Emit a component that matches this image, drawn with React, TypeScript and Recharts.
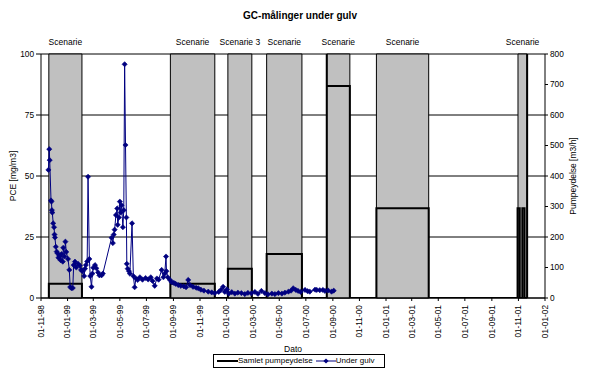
import React from 'react';
import { ComposedChart, Line, XAxis, YAxis, CartesianGrid, ReferenceArea, Legend } from 'recharts';

const FONT = '"Liberation Sans", Arial, Helvetica, sans-serif';

// ---- data ----
const underGulvDates = [
  '1998-11-18', '1998-11-20', '1998-11-21', '1998-11-24', '1998-11-25', '1998-11-26', '1998-11-27', '1998-11-29',
  '1998-12-01', '1998-12-02', '1998-12-03', '1998-12-05', '1998-12-07', '1998-12-09', '1998-12-11', '1998-12-13',
  '1998-12-16', '1998-12-18', '1998-12-21', '1998-12-22', '1998-12-25', '1998-12-27', '1998-12-29', '1999-01-02',
  '1999-01-05', '1999-01-07', '1999-01-10', '1999-01-13', '1999-01-15', '1999-01-18', '1999-01-21', '1999-01-25',
  '1999-01-29', '1999-02-01', '1999-02-04', '1999-02-08', '1999-02-10', '1999-02-12', '1999-02-15', '1999-02-17',
  '1999-02-20', '1999-02-22', '1999-02-25', '1999-02-27', '1999-03-01', '1999-03-05', '1999-03-08', '1999-03-12',
  '1999-03-15', '1999-03-20', '1999-03-23', '1999-04-12', '1999-04-15', '1999-04-17', '1999-04-19', '1999-04-22',
  '1999-04-25', '1999-04-26', '1999-04-29', '1999-05-01', '1999-05-03', '1999-05-05', '1999-05-08', '1999-05-10',
  '1999-05-12', '1999-05-14', '1999-05-16', '1999-05-17', '1999-05-19', '1999-05-22', '1999-05-24', '1999-05-29',
  '1999-06-01', '1999-06-04', '1999-06-07', '1999-06-11', '1999-06-16', '1999-06-22', '1999-06-29', '1999-07-05',
  '1999-07-11', '1999-07-15', '1999-07-20', '1999-07-25', '1999-07-29', '1999-08-05', '1999-08-09', '1999-08-12',
  '1999-08-15', '1999-08-16', '1999-08-19', '1999-08-24', '1999-08-28', '1999-09-02', '1999-09-06', '1999-09-12',
  '1999-09-18', '1999-09-25', '1999-09-30', '1999-10-05', '1999-10-09', '1999-10-16', '1999-10-23', '1999-10-28',
  '1999-11-03', '1999-11-10', '1999-11-20', '1999-11-28', '1999-12-05', '1999-12-14', '1999-12-19', '1999-12-24',
  '1999-12-28', '2000-01-02', '2000-01-06', '2000-01-13', '2000-01-20', '2000-01-27', '2000-02-04', '2000-02-12',
  '2000-02-19', '2000-02-27', '2000-03-06', '2000-03-13', '2000-03-21', '2000-03-29', '2000-04-05', '2000-04-14',
  '2000-04-21', '2000-04-29', '2000-05-07', '2000-05-14', '2000-05-22', '2000-05-28', '2000-06-02', '2000-06-08',
  '2000-06-13', '2000-06-19', '2000-06-29', '2000-07-05', '2000-07-10', '2000-07-22', '2000-07-26', '2000-08-02',
  '2000-08-09', '2000-08-14', '2000-08-21', '2000-08-29', '2000-09-03',
];
const underGulvValues = [
  52.5, 61, 56.5, 40, 39.5, 36, 35, 30.6,
  29, 26, 24.8, 21, 19, 18.3, 16.5, 17.3,
  15.5, 18, 14.9, 20.6, 17, 23.1, 18.9, 16,
  11.5, 4.5, 4, 4.1, 13.5, 14.9, 12.5, 14,
  13.3, 11.5, 11, 9, 12, 13.5, 15, 49.7,
  16, 9, 4.6, 10, 12.4, 13.5, 12.2, 10.5,
  9.3, 9.3, 10, 24.7, 22.5, 26, 28, 34,
  36.7, 30, 33, 39.5, 35, 38, 29, 36,
  95.8, 62.7, 33, 14, 12, 11, 10, 30.6,
  9, 4.4, 8, 7.4, 8.5, 7.5, 8.2, 7.6,
  8.5, 7, 5, 8, 7.5, 11.5, 8.5, 10,
  17, 11, 8.5, 7.4, 6.5, 6.2, 5.8, 5.3,
  5, 4.8, 4.4, 7.4, 5.3, 4.6, 4.2, 4,
  3.4, 3, 2.6, 2.3, 2, 2.5, 3.3, 4.6,
  2.5, 3.5, 1.8, 2.4, 1.8, 2.2, 2, 1.6,
  2.1, 1.9, 2.5, 1.7, 2.9, 2, 1.5, 1.8,
  1.6, 2, 1.8, 2.2, 2.6, 3, 4, 3.3,
  2.9, 2.5, 3.3, 2.8, 2.6, 3.4, 3.3, 3.2,
  3.3, 2.9, 3.1, 2.6, 3,
];

const pumpDates = [
  '1998-11-19', '1998-11-19', '1999-02-03', '1999-02-03',
  '1999-08-25', '1999-08-25', '1999-12-05', '1999-12-05',
  '2000-01-04', '2000-01-04', '2000-02-28', '2000-02-28',
  '2000-04-02', '2000-04-02', '2000-06-22', '2000-06-22',
  '2000-08-18', '2000-08-18', '2000-08-18', '2000-10-10', '2000-10-10',
  '2000-12-10', '2000-12-10', '2001-04-09', '2001-04-09',
  '2001-10-30', '2001-10-30', '2001-11-04', '2001-11-04',
  '2001-11-10', '2001-11-10', '2001-11-15', '2001-11-15',
  '2001-11-21', '2001-11-21', '2001-11-21',
];
const pumpValues = [
  0, 47, 47, 0,
  0, 47, 47, 0,
  0, 96, 96, 0,
  0, 144, 144, 0,
  0, 800, 695, 695, 0,
  0, 294, 294, 0,
  0, 294, 294, 0,
  0, 294, 294, 0,
  0, 800, 0,
];

const scenarioStarts = ['1998-11-19', '1999-08-25', '2000-01-04', '2000-04-02', '2000-08-18', '2000-12-10', '2001-10-31'];
const scenarioEnds = ['1999-02-03', '1999-12-05', '2000-02-28', '2000-06-22', '2000-10-10', '2001-04-09', '2001-11-21'];
const scenarioLabels = ['Scenarie', 'Scenarie', 'Scenarie 3', 'Scenarie', 'Scenarie', 'Scenarie', 'Scenarie'];

const xTickDates = [
  '1998-11-01', '1999-01-01', '1999-03-01', '1999-05-01', '1999-07-01', '1999-09-01', '1999-11-01',
  '2000-01-01', '2000-03-01', '2000-05-01', '2000-07-01', '2000-09-01', '2000-11-01',
  '2001-01-01', '2001-03-01', '2001-05-01', '2001-07-01', '2001-09-01', '2001-11-01', '2002-01-01',
];
const leftTicks = [0, 25, 50, 75, 100];
const rightTicks = [0, 100, 200, 300, 400, 500, 600, 700, 800];

// ---- helpers ----
const ts = (s: string) => {
  const [y, m, d] = s.split('-').map(Number);
  return Date.UTC(y, m - 1, d);
};
const pad = (n: number) => (n < 10 ? '0' + n : '' + n);
const fmtDate = (t: number) => {
  const d = new Date(t);
  return `${pad(d.getUTCDate())}-${pad(d.getUTCMonth() + 1)}-${pad(d.getUTCFullYear() % 100)}`;
};

const underGulvData = underGulvDates.map((d, i) => ({ t: ts(d), pce: underGulvValues[i] }));
const pumpData = pumpDates.map((d, i) => ({ t: ts(d), pump: pumpValues[i] }));
const xTicks = xTickDates.map(ts);

const Diamond = (props: any) => {
  const { cx, cy } = props;
  if (cx == null || cy == null) return null;
  const r = 2.6;
  return <path d={`M${cx},${cy - r}L${cx + r},${cy}L${cx},${cy + r}L${cx - r},${cy}Z`} fill="#000080" stroke="#000080" strokeWidth={0.6} />;
};

const RotTick = (props: any) => {
  const { x, y, payload } = props;
  const ty = y + 2;
  return (
    <text x={x} y={ty} transform={`rotate(-90 ${x} ${ty})`} textAnchor="end" dy="0.35em"
      fontFamily={FONT} fontSize={8.3} fill="#000">
      {fmtDate(payload.value)}
    </text>
  );
};

const LeftLabel = (props: any) => {
  const vb = props.viewBox || {};
  const cx = (vb.x ?? 0) + 12.5;
  const cy = (vb.y ?? 54) + (vb.height ?? 244) / 2;
  return (
    <text x={cx} y={cy} transform={`rotate(-90 ${cx} ${cy})`} textAnchor="middle" dominantBaseline="central"
      fontFamily={FONT} fontSize={8.5} fill="#000">PCE [mg/m3]</text>
  );
};

const RightLabel = (props: any) => {
  const vb = props.viewBox || {};
  const cx = (vb.x ?? 545) + 27.5;
  const cy = (vb.y ?? 54) + (vb.height ?? 244) / 2;
  return (
    <text x={cx} y={cy} transform={`rotate(-90 ${cx} ${cy})`} textAnchor="middle" dominantBaseline="central"
      fontFamily={FONT} fontSize={8.5} fill="#000">Pumpeydelse [m3/h]</text>
  );
};

const renderLegend = () => (
  <div style={{
    border: '1px solid #000', height: 14, width: 172, boxSizing: 'border-box', display: 'flex',
    alignItems: 'center', fontFamily: FONT, fontSize: 8, color: '#000', background: '#fff', lineHeight: '12px',
  }}>
    <svg width={21} height={8} style={{ marginLeft: 3 }}>
      <line x1={0} y1={4} x2={21} y2={4} stroke="#000" strokeWidth={2} />
    </svg>
    <span style={{ marginRight: 3 }}>Samlet pumpeydelse</span>
    <svg width={20} height={8}>
      <line x1={0} y1={4} x2={20} y2={4} stroke="#000080" strokeWidth={1} />
      <path d="M10,1.4L12.6,4L10,6.6L7.4,4Z" fill="#000080" />
    </svg>
    <span>Under gulv</span>
  </div>
);

const tickStyle = { fontFamily: FONT, fontSize: 8.3, fill: '#000' };

export default function App() {
  return (
    <div style={{ position: 'absolute', left: 0, top: 0, width: 589, height: 370, background: '#fff' }}>
      <ComposedChart width={589} height={370} margin={{ top: 54, right: 0, bottom: 0, left: 0 }}>
        <text x={300} y={15} textAnchor="middle" dominantBaseline="central" fontFamily={FONT} fontSize={10} fontWeight="bold" fill="#000">
          GC-målinger under gulv
        </text>
        <CartesianGrid yAxisId="left" vertical={false} stroke="#000" strokeWidth={1} />
        <XAxis
          dataKey="t" type="number" domain={[ts('1998-11-01'), ts('2002-01-01')]} ticks={xTicks} interval={0}
          allowDataOverflow height={72} tick={<RotTick />} tickSize={3}
          axisLine={{ stroke: '#000' }} tickLine={{ stroke: '#000' }}
          label={{ value: 'Dato', position: 'insideBottom', offset: 18, fontFamily: FONT, fontSize: 8.5, fill: '#000' }}
        />
        <YAxis
          yAxisId="left" domain={[0, 100]} ticks={leftTicks} width={41} tickSize={5} tick={tickStyle}
          axisLine={{ stroke: '#000' }} tickLine={{ stroke: '#000' }} allowDataOverflow
          label={<LeftLabel />}
        />
        <YAxis
          yAxisId="right" orientation="right" domain={[0, 800]} ticks={rightTicks} width={44} tickSize={3} tick={tickStyle}
          axisLine={{ stroke: '#000' }} tickLine={{ stroke: '#000' }} allowDataOverflow
          label={<RightLabel />}
        />
        {scenarioStarts.map((s, i) => (
          <ReferenceArea
            key={i} yAxisId="left" x1={ts(s)} x2={ts(scenarioEnds[i])} y1={0} y2={100}
            fill="#c0c0c0" fillOpacity={1} stroke="#000" strokeWidth={1} ifOverflow="visible"
            label={{ value: scenarioLabels[i], position: 'top', offset: 9, fontFamily: FONT, fontSize: 8.5, fill: '#000' }}
          />
        ))}
        <Line
          data={pumpData} dataKey="pump" yAxisId="right" name="Samlet pumpeydelse" type="linear"
          stroke="#000" strokeWidth={2} dot={false} activeDot={false} isAnimationActive={false}
        />
        <Line
          data={underGulvData} dataKey="pce" yAxisId="left" name="Under gulv" type="linear"
          stroke="#000080" strokeWidth={1} dot={<Diamond />} activeDot={false} isAnimationActive={false}
        />
        <Legend layout="horizontal" verticalAlign="middle" align="center"
          wrapperStyle={{ top: 354, left: 213, width: 172, height: 14 }} content={renderLegend} />
      </ComposedChart>
    </div>
  );
}
